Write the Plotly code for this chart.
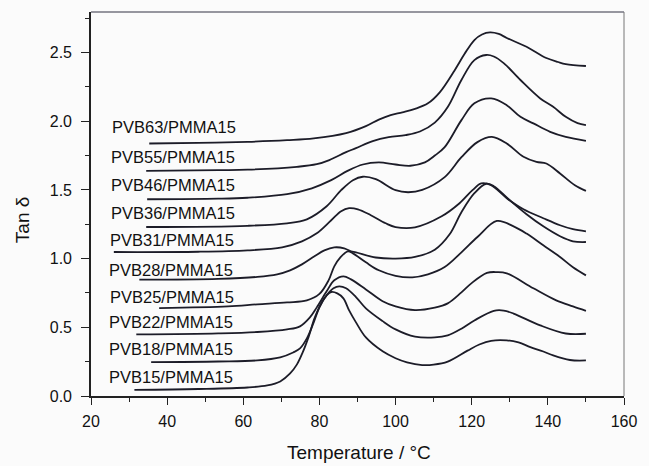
import plotly.graph_objects as go

# ---- data (Temperature in °C, tan delta incl. vertical offset) ----
temp_pvb15 = [31.4, 48.2, 61.1, 66.3, 69.7, 72.3, 74.1, 75.6, 77.2, 78.7, 80.6, 81.9, 83.1, 84.7, 86.3, 87.8,
              89.6, 92.2, 96.6, 100.0, 103.0, 107.0, 110.0, 113.7, 118.9, 122.0, 125.1, 129.2, 132.3, 135.4,
              138.8, 141.4, 145.8, 150.0]
tand_pvb15 = [0.045, 0.051, 0.062, 0.077, 0.106, 0.164, 0.230, 0.317, 0.434, 0.565, 0.681, 0.733, 0.757, 0.747,
              0.711, 0.623, 0.536, 0.426, 0.325, 0.275, 0.245, 0.225, 0.228, 0.250, 0.330, 0.375, 0.402, 0.405,
              0.390, 0.356, 0.324, 0.295, 0.262, 0.259]

temp_pvb18 = [35.8, 53.4, 63.7, 69.7, 73.1, 74.9, 76.7, 78.5, 80.0, 81.9, 83.7, 85.2, 87.0, 89.6, 92.2, 96.6,
              100.0, 105.1, 110.3, 113.7, 117.3, 120.7, 125.8, 128.4, 131.0, 138.0, 144.7, 150.0]
tand_pvb18 = [0.246, 0.251, 0.259, 0.281, 0.317, 0.346, 0.419, 0.536, 0.645, 0.733, 0.784, 0.798, 0.784, 0.720,
              0.638, 0.545, 0.485, 0.432, 0.426, 0.441, 0.490, 0.550, 0.620, 0.622, 0.600, 0.514, 0.455, 0.453]

temp_pvb22 = [31.9, 53.4, 63.7, 71.5, 74.9, 77.5, 79.3, 81.9, 83.9, 86.3, 88.3, 92.2, 96.6, 100.0, 105.1, 110.3,
              113.7, 117.3, 119.9, 124.0, 126.6, 129.2, 136.2, 142.2, 146.6, 150.0]
tand_pvb22 = [0.448, 0.456, 0.466, 0.485, 0.507, 0.572, 0.645, 0.762, 0.842, 0.871, 0.849, 0.776, 0.690, 0.652,
              0.625, 0.643, 0.674, 0.754, 0.820, 0.896, 0.902, 0.893, 0.784, 0.696, 0.652, 0.620]

temp_pvb25 = [37.9, 56.0, 63.7, 71.5, 76.7, 80.0, 82.4, 83.9, 85.5, 87.5, 88.8, 92.2, 95.6, 100.0, 104.4, 108.5,
              112.9, 117.3, 121.5, 126.6, 131.0, 134.4, 138.8, 143.2, 146.6, 150.0]
tand_pvb25 = [0.640, 0.652, 0.667, 0.681, 0.696, 0.743, 0.842, 0.944, 1.009, 1.053, 1.038, 0.973, 0.915, 0.875,
              0.864, 0.886, 0.939, 1.046, 1.157, 1.274, 1.235, 1.182, 1.097, 1.012, 0.937, 0.878]

temp_pvb28 = [32.7, 53.4, 63.7, 68.9, 72.3, 75.4, 78.7, 81.3, 83.9, 86.5, 88.3, 89.6, 94.8, 100.0, 105.1, 110.3,
              114.2, 117.3, 120.7, 123.8, 125.8, 129.7, 134.4, 138.8, 143.2, 146.6, 150.0]
tand_pvb28 = [0.847, 0.853, 0.867, 0.886, 0.915, 0.958, 1.017, 1.060, 1.082, 1.075, 1.053, 1.046, 1.008, 1.000,
              1.012, 1.065, 1.177, 1.338, 1.476, 1.545, 1.527, 1.432, 1.323, 1.235, 1.163, 1.126, 1.121]

temp_pvb31 = [26.0, 48.2, 61.1, 70.2, 75.4, 79.3, 83.1, 85.7, 87.8, 90.1, 93.5, 97.4, 100.0, 105.1, 112.1, 116.8,
              120.2, 122.5, 125.1, 129.2, 133.6, 138.8, 143.2, 146.6, 150.0]
tand_pvb31 = [1.048, 1.050, 1.060, 1.082, 1.126, 1.184, 1.279, 1.345, 1.367, 1.359, 1.316, 1.257, 1.230, 1.228,
              1.308, 1.403, 1.498, 1.547, 1.534, 1.440, 1.359, 1.294, 1.243, 1.214, 1.199]

temp_pvb36 = [34.5, 61.1, 71.5, 76.7, 81.9, 85.7, 88.8, 91.4, 94.8, 100.0, 103.3, 107.0, 112.9, 117.3, 121.5,
              125.3, 129.2, 133.6, 137.0, 139.6, 143.2, 147.1, 150.0]
tand_pvb36 = [1.230, 1.239, 1.257, 1.286, 1.381, 1.498, 1.571, 1.596, 1.578, 1.498, 1.483, 1.500, 1.593, 1.738,
              1.848, 1.886, 1.838, 1.741, 1.704, 1.692, 1.620, 1.534, 1.493]

temp_pvb46 = [34.75, 53.4, 61.1, 71.5, 78.0, 83.1, 87.5, 91.4, 95.6, 100.0, 103.9, 107.7, 110.3, 112.9, 117.3,
              120.7, 125.1, 129.2, 132.8, 136.2, 140.6, 144.7, 150.0]
tand_pvb46 = [1.432, 1.436, 1.443, 1.469, 1.512, 1.571, 1.640, 1.685, 1.700, 1.685, 1.676, 1.700, 1.750, 1.811,
              2.008, 2.130, 2.166, 2.117, 2.032, 1.984, 1.923, 1.886, 1.857]

temp_pvb55 = [34.5, 53.4, 61.1, 74.1, 79.3, 82.6, 87.0, 89.6, 94.0, 98.2, 102.6, 106.4, 110.3, 113.7, 117.3,
              120.7, 123.8, 125.8, 128.4, 132.8, 138.0, 141.4, 144.7, 147.8, 150.0]
tand_pvb55 = [1.638, 1.644, 1.647, 1.668, 1.687, 1.717, 1.775, 1.804, 1.855, 1.884, 1.899, 1.925, 1.990, 2.103,
              2.300, 2.445, 2.482, 2.471, 2.423, 2.300, 2.166, 2.105, 2.032, 1.986, 1.972]

temp_pvb63 = [35.3, 48.2, 61.1, 71.5, 78.5, 87.0, 92.2, 95.6, 98.7, 101.8, 105.1, 108.5, 111.6, 115.5, 118.1,
              120.7, 122.7, 124.8, 127.1, 129.2, 134.4, 139.6, 142.7, 144.7, 150.0]
tand_pvb63 = [1.838, 1.842, 1.850, 1.862, 1.875, 1.913, 1.964, 2.012, 2.045, 2.065, 2.090, 2.130, 2.210, 2.370,
              2.489, 2.591, 2.631, 2.646, 2.635, 2.606, 2.542, 2.460, 2.431, 2.416, 2.402]

sample_names = ["PVB15/PMMA15", "PVB18/PMMA15", "PVB22/PMMA15", "PVB25/PMMA15", "PVB28/PMMA15",
                "PVB31/PMMA15", "PVB36/PMMA15", "PVB46/PMMA15", "PVB55/PMMA15", "PVB63/PMMA15"]
label_y = [0.137, 0.344, 0.538, 0.720, 0.915, 1.133, 1.330, 1.534, 1.741, 1.959]
label_x = [24.3, 24.3, 24.3, 24.5, 24.3, 24.5, 24.7, 24.7, 24.7, 25.0]

x_ticks = [20, 40, 60, 80, 100, 120, 140, 160]
y_ticks = [0.0, 0.5, 1.0, 1.5, 2.0, 2.5]
y_tick_text = ["0.0", "0.5", "1.0", "1.5", "2.0", "2.5"]

series = [
    (temp_pvb15, tand_pvb15), (temp_pvb18, tand_pvb18), (temp_pvb22, tand_pvb22),
    (temp_pvb25, tand_pvb25), (temp_pvb28, tand_pvb28), (temp_pvb31, tand_pvb31),
    (temp_pvb36, tand_pvb36), (temp_pvb46, tand_pvb46), (temp_pvb55, tand_pvb55),
    (temp_pvb63, tand_pvb63),
]

FONT = "Liberation Sans, Arial, Helvetica, sans-serif"
INK = "#1c1c28"

fig = go.Figure()
for name, (xs, ys) in zip(sample_names, series):
    fig.add_trace(go.Scatter(
        x=xs, y=ys, mode="lines", name=name,
        line=dict(color=INK, width=1.8, shape="spline", smoothing=1.0),
        showlegend=False, hoverinfo="skip",
    ))

annotations = []
for name, lx, ly in zip(sample_names, label_x, label_y):
    annotations.append(dict(
        x=lx, y=ly, xref="x", yref="y", text=name, showarrow=False,
        xanchor="left", yanchor="middle",
        font=dict(family=FONT, size=16.5, color="#111111"),
    ))

annotations.append(dict(
    x=0.503, y=-0.148, xref="paper", yref="paper", text="Temperature / °C",
    showarrow=False, xanchor="center", yanchor="middle",
    font=dict(family=FONT, size=19, color="#111111"),
))
annotations.append(dict(
    x=-0.128, y=0.46, xref="paper", yref="paper", text="Tan δ", textangle=-90,
    showarrow=False, xanchor="center", yanchor="middle",
    font=dict(family=FONT, size=19, color="#111111"),
))

axis_common = dict(
    showgrid=False, zeroline=False, showline=True, linecolor="#222222", linewidth=1.6,
    ticks="outside", tickcolor="#222222", tickwidth=1.4, mirror=False,
    tickfont=dict(family=FONT, size=16, color="#111111"),
)

fig.update_layout(
    width=649, height=466,
    margin=dict(l=91, r=17, t=12, b=70, pad=0),
    paper_bgcolor="#fbfbfb", plot_bgcolor="#fbfbfb",
    annotations=annotations,
    xaxis=dict(range=[20, 160], tickvals=x_ticks, ticklen=7,
               minor=dict(ticks="outside", dtick=10, tick0=0, ticklen=4, tickcolor="#222222", tickwidth=1.2),
               ticklabelstandoff=3, **axis_common),
    yaxis=dict(range=[0, 2.795], tickvals=y_ticks, ticktext=y_tick_text, ticklen=8,
               minor=dict(ticks="outside", dtick=0.25, tick0=0, ticklen=4, tickcolor="#222222", tickwidth=1.2),
               ticklabelstandoff=6, **axis_common),
    shapes=[
        dict(type="line", xref="paper", yref="paper", x0=0, x1=1, y0=1, y1=1,
             line=dict(color="#333344", width=1.2)),
        dict(type="line", xref="paper", yref="paper", x0=1, x1=1, y0=0, y1=1,
             line=dict(color="#777777", width=1)),
    ],
)

fig.write_html("out.html")
